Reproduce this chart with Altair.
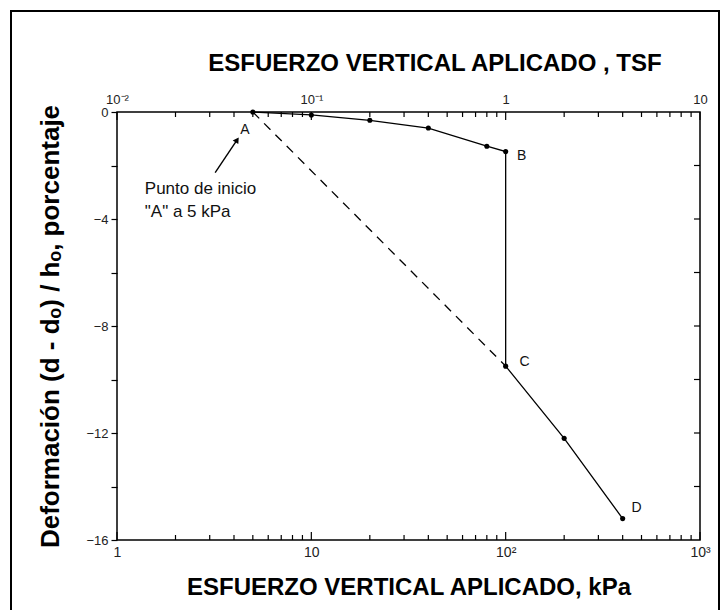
import math
import altair as alt
import pandas as pd

# Consolidation test curve: applied vertical stress (kPa) vs. strain (%)
stress_kpa = [5, 10, 20, 40, 80, 100, 100, 200, 400]
strain_pct = [0.0, -0.11, -0.31, -0.6, -1.28, -1.48, -9.5, -12.2, -15.2]

# Straight reference path from A to C
dash_kpa = [5, 100]
dash_pct = [0.0, -9.5]

# Named points on the curve
label_names = ["A", "B", "C", "D"]
label_kpa = [5, 100, 100, 400]
label_pct = [0.0, -1.48, -9.5, -15.2]

# Start-point note and its arrow
note_lines = ["Punto de inicio", "\"A\" a 5 kPa"]
note_kpa = [1.39, 1.39]
note_pct = [-2.86, -3.74]
arrow_kpa = [3.2, 4.15]
arrow_pct = [-2.27, -1.04]

# Axis tick values and their labels
kpa_ticks = [1, 10, 100, 1000]
kpa_labels = ["1", "10", "10²", "10³"]
tsf_labels = ["10⁻²", "10⁻¹", "1", "10"]
minor_kpa = [m * 10 ** d for d in range(3) for m in range(2, 10)]
strain_ticks = list(range(-16, 1, 2))

W, H = 583, 428
FONT = "Liberation Sans"

xscale = alt.Scale(type="log", domain=[1, 1000], nice=False)
yscale = alt.Scale(domain=[-16, 0], nice=False)


def label_expr(values, labels):
    expr = "''"
    for v, t in reversed(list(zip(values, labels))):
        expr = f"datum.value == {v} ? '{t}' : ({expr})"
    return expr


curve = pd.DataFrame({"kpa": stress_kpa, "pct": strain_pct, "i": range(len(stress_kpa))})
dash = pd.DataFrame({"kpa": dash_kpa, "pct": dash_pct})

bottom_axis = alt.Axis(
    values=kpa_ticks, labelExpr=label_expr(kpa_ticks, kpa_labels), ticks=False,
    grid=False, domain=False, labelFontSize=14, labelColor="#222", labelPadding=5,
    title="ESFUERZO VERTICAL APLICADO, kPa", titleFontSize=24, titleFontWeight="bold",
    titlePadding=16, labelFlush=False,
)
top_axis = alt.Axis(
    orient="top", values=kpa_ticks, labelExpr=label_expr(kpa_ticks, tsf_labels),
    ticks=False, grid=False, domain=False, labelFontSize=13, labelColor="#222",
    labelPadding=6, title="ESFUERZO VERTICAL APLICADO , TSF", titleFontSize=24,
    titleFontWeight="bold", titlePadding=18, titleX=W / 2 + 26, labelFlush=False,
)
left_axis = alt.Axis(
    values=strain_ticks,
    labelExpr="datum.value % 4 == 0 ? format(datum.value, 'd') : ''",
    grid=False, domain=False, tickSize=6, tickColor="black", tickWidth=1.2,
    labelFontSize=13, labelColor="#222", labelPadding=3,
    title="Deformación (d - dₒ) / hₒ, porcentaje", titleFontSize=26,
    titleFontWeight="bold", titleX=-67, titleY=H / 2, titleAngle=270,
    titleAlign="center", titleBaseline="middle",
)

line = alt.Chart(curve).mark_line(color="black", strokeWidth=1.3).encode(
    x=alt.X("kpa:Q", scale=xscale, axis=bottom_axis),
    y=alt.Y("pct:Q", scale=yscale, axis=left_axis),
    order="i:Q",
)
dashed = alt.Chart(dash).mark_line(color="black", strokeWidth=1.3, strokeDash=[9, 7]).encode(
    x=alt.X("kpa:Q", scale=xscale, axis=top_axis),
    y=alt.Y("pct:Q", scale=yscale, axis=None),
)
dots = alt.Chart(curve).mark_circle(color="black", size=26, opacity=1).encode(
    x=alt.X("kpa:Q", scale=xscale, axis=None),
    y=alt.Y("pct:Q", scale=yscale, axis=None),
)

# Point names, each placed beside its marker
offsets = {"A": (-8, 18), "B": (16, 4), "C": (19, -4), "D": (14, -11)}
names = []
for n, k, p in zip(label_names, label_kpa, label_pct):
    dx, dy = offsets[n]
    names.append(
        alt.Chart(pd.DataFrame({"kpa": [k], "pct": [p], "t": [n]}))
        .mark_text(font=FONT, fontSize=14, color="#111", dx=dx, dy=dy)
        .encode(x=alt.X("kpa:Q", scale=xscale, axis=None),
                y=alt.Y("pct:Q", scale=yscale, axis=None), text="t:N")
    )

note = alt.Chart(pd.DataFrame({"kpa": note_kpa, "pct": note_pct, "t": note_lines})).mark_text(
    font=FONT, fontSize=17, color="#111", align="left", baseline="middle"
).encode(
    x=alt.X("kpa:Q", scale=xscale, axis=None),
    y=alt.Y("pct:Q", scale=yscale, axis=None), text="t:N",
)

arrow_df = pd.DataFrame({"kpa": [arrow_kpa[0]], "pct": [arrow_pct[0]],
                         "kpa2": [arrow_kpa[1]], "pct2": [arrow_pct[1]]})
arrow_line = alt.Chart(arrow_df).mark_rule(color="black", strokeWidth=1.4).encode(
    x=alt.X("kpa:Q", scale=xscale, axis=None), x2="kpa2:Q",
    y=alt.Y("pct:Q", scale=yscale, axis=None), y2="pct2:Q",
)
# Arrowhead turned along the arrow's on-screen direction
ddx = W * (math.log10(arrow_kpa[1]) - math.log10(arrow_kpa[0])) / 3
ddy = H * (arrow_pct[1] - arrow_pct[0]) / 16
head_angle = math.degrees(math.atan2(ddx, ddy))
arrow_head = alt.Chart(pd.DataFrame({"kpa": [arrow_kpa[1]], "pct": [arrow_pct[1]]})).mark_point(
    shape="triangle-up", filled=True, color="black", size=45, opacity=1, angle=head_angle
).encode(
    x=alt.X("kpa:Q", scale=xscale, axis=None),
    y=alt.Y("pct:Q", scale=yscale, axis=None),
)

# Inward ticks along the bottom, top and right edges
tick_df = pd.DataFrame({"kpa": minor_kpa})
major_df = pd.DataFrame({"kpa": kpa_ticks})
side_df = pd.DataFrame({"pct": strain_ticks[1:-1]})


def edge_ticks(df, y0, y1):
    return alt.Chart(df).mark_rule(color="black", strokeWidth=1.2).encode(
        x=alt.X("kpa:Q", scale=xscale, axis=None), y=alt.value(y0), y2=alt.value(y1)
    )


ticks = [
    edge_ticks(tick_df, H, H - 5), edge_ticks(major_df, H, H - 8),
    edge_ticks(tick_df, 0, 5), edge_ticks(major_df, 0, 8),
    alt.Chart(side_df).mark_rule(color="black", strokeWidth=1.2).encode(
        y=alt.Y("pct:Q", scale=yscale, axis=None), x=alt.value(W), x2=alt.value(W - 6)
    ),
]

# Page border around the figure
border = alt.Chart(pd.DataFrame({"k": [0]})).mark_rect(
    fill=None, stroke="black", strokeWidth=2
).encode(x=alt.value(-106), x2=alt.value(602), y=alt.value(-101), y2=alt.value(520))

chart = alt.layer(
    line, dashed, dots, *names, note, arrow_line, arrow_head, *ticks, border
).resolve_axis(x="independent", y="independent").properties(
    width=W, height=H,
    autosize=alt.AutoSizeParams(type="none"),
    padding={"left": 117, "top": 112, "right": 726 - 117 - W, "bottom": 610 - 112 - H},
    background="white",
).configure(font=FONT).configure_view(stroke="black", strokeWidth=1.5)

chart.save("out.html", embed_options={"renderer": "svg", "actions": False})
